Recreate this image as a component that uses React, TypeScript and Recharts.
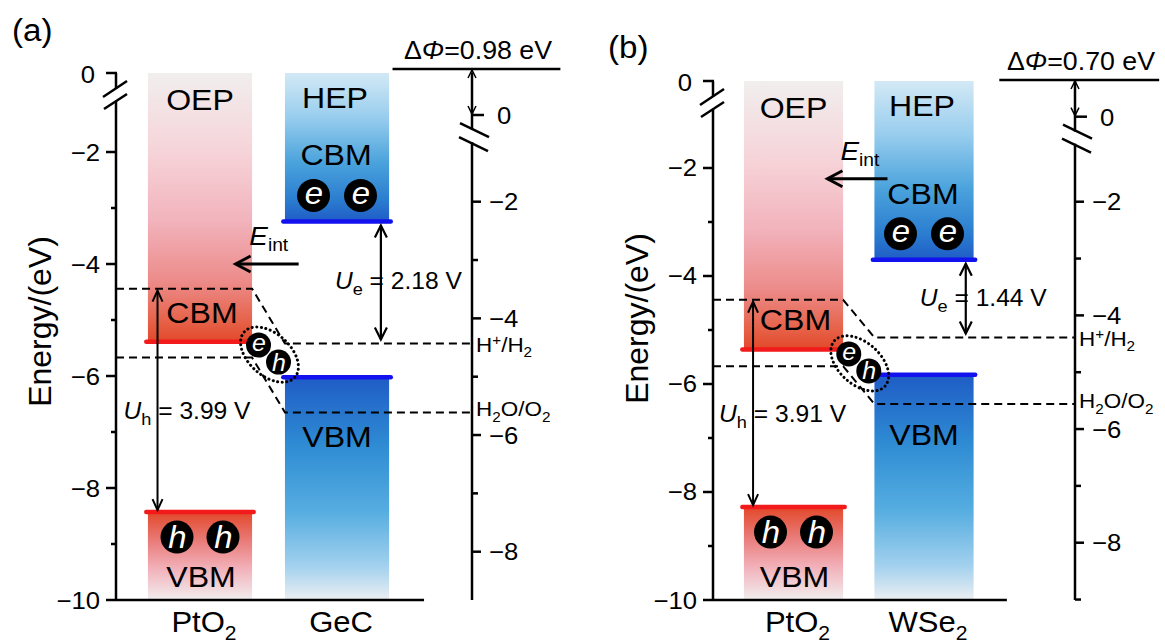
import React from 'react';
import { ComposedChart, XAxis, YAxis, ReferenceArea, ReferenceLine, ReferenceDot, Line } from 'recharts';

const FONT = '"Liberation Sans", Arial, Helvetica, sans-serif';
const SX = 1.07;

// ---------- data ----------
const redoxLevels = [-4.44, -5.67];
const redoxNames = ['H+/H2', 'H2O/O2'];

const materialsA = ['PtO2', 'GeC'];
const cbmA = [-5.39, -3.24];
const vbmA = [-8.43, -6.02];
const dPhiA = 0.98;
const ueA = 2.18;
const uhA = 3.99;

const materialsB = ['PtO2', 'WSe2'];
const cbmB = [-5.36, -3.7];
const vbmB = [-8.28, -5.83];
const dPhiB = 0.7;
const ueB = 1.44;
const uhB = 3.91;

const leftTickValues = [-10, -9, -8, -7, -6, -5, -4, -3, -2];
const rightTicksA = [-8, -7, -6, -5, -4, -3, -2];
const rightTicksB = [-9, -8, -7, -6, -5, -4, -3, -2];

// ---------- layout (not data) ----------
const geoA = {
  width: 582, top: 73, leftW: 116, rightW: 110,
  xDomain: [0.387, 2.985], yL: [-10, -0.589], yR: [-8.828, 0.206],
  zeroR: -0.514, dPhiLineR: 0.275, eintE: -4.0, titleDy: -15,
};
const geoB = {
  width: 583, top: 81, leftW: 131, rightW: 90,
  xDomain: [0.383, 3.157], yL: [-10, -0.389], yR: [-9.008, 0.124],
  zeroR: -0.504, dPhiLineR: 0.141, eintE: -2.2, titleDy: -22,
};

function T({ x, y, size = 22, anchor = 'start', italic = false, fill = '#000', sx = SX, children }: any) {
  return (
    <g transform={`translate(${x},${y}) scale(${sx},1)`}>
      <text x={0} y={0} fontSize={size} fontFamily={FONT} textAnchor={anchor} fill={fill}
        fontStyle={italic ? 'italic' : 'normal'} style={{ whiteSpace: 'pre' }}>{children}</text>
    </g>
  );
}

function chem(s: string, size: number) {
  const runs: { kind: string; t: string }[] = [];
  for (const ch of s) {
    const kind = /[0-9]/.test(ch) ? 'sub' : ch === '+' ? 'sup' : 'n';
    if (runs.length && runs[runs.length - 1].kind === kind) runs[runs.length - 1].t += ch;
    else runs.push({ kind, t: ch });
  }
  let cur = 0;
  return runs.map((r, i) => {
    const target = r.kind === 'sub' ? size * 0.28 : r.kind === 'sup' ? -size * 0.32 : 0;
    const dy = target - cur;
    cur = target;
    return (
      <tspan key={i} dy={dy} fontSize={r.kind === 'n' ? size : size * 0.68}>{r.t}</tspan>
    );
  });
}

const minus = (v: number) => String(v).replace('-', '\u2212');
const AX = { stroke: '#000', strokeWidth: 2.5 };

function LeftTick(p: any) {
  const { x, y, payload } = p;
  const v = payload.value;
  if (v > -1) {
    return (
      <g>
        <line x1={x - 10} y1={y} x2={x + 1} y2={y} {...AX} />
        <rect x={x - 4} y={y + 16} width={8} height={12} fill="#fff" />
        <line x1={x - 13} y1={y + 24} x2={x + 11} y2={y + 8} {...AX} />
        <line x1={x - 12} y1={y + 36} x2={x + 11} y2={y + 21} {...AX} />
        <T x={x - 21} y={y + 10} size={24} anchor="end">0</T>
      </g>
    );
  }
  const major = v % 2 === 0;
  return (
    <g>
      <line x1={x - (major ? 10 : 5)} y1={y} x2={x} y2={y} {...AX} />
      {major && <T x={x - 16} y={y + 8.5} size={24} anchor="end">{minus(v)}</T>}
    </g>
  );
}

function RightTick(p: any) {
  const { x, y, payload } = p;
  const v = payload.value;
  if (v > -1) {
    return (
      <g>
        <line x1={x} y1={y} x2={x + 12} y2={y} {...AX} />
        <rect x={x - 4} y={y + 15} width={8} height={12} fill="#fff" />
        <line x1={x - 12} y1={y + 8} x2={x + 17} y2={y + 22} {...AX} />
        <line x1={x - 13} y1={y + 22} x2={x + 16} y2={y + 36} {...AX} />
        <T x={x + 25} y={y + 9} size={24}>0</T>
      </g>
    );
  }
  const major = v % 2 === 0;
  return (
    <g>
      <line x1={x} y1={y} x2={x + (major ? 9 : 6)} y2={y} {...AX} />
      {major && <T x={x + 17} y={y + 8.5} size={24}>{minus(v)}</T>}
    </g>
  );
}

function arrowShape(o: { start?: boolean; end?: boolean; len: number; hw: number; sw: number; inset?: number }) {
  return (p: any) => {
    let { x1, y1, x2, y2 } = p;
    const a = Math.atan2(y2 - y1, x2 - x1);
    const ins = o.inset ?? 0;
    x1 += Math.cos(a) * ins; y1 += Math.sin(a) * ins;
    x2 -= Math.cos(a) * ins; y2 -= Math.sin(a) * ins;
    const head = (tx: number, ty: number, ang: number) => {
      const bx = tx - o.len * Math.cos(ang), by = ty - o.len * Math.sin(ang);
      const px = -Math.sin(ang) * o.hw, py = Math.cos(ang) * o.hw;
      return (
        <polyline points={`${bx + px},${by + py} ${tx},${ty} ${bx - px},${by - py}`}
          fill="none" stroke="#000" strokeWidth={o.sw} />
      );
    };
    return (
      <g>
        <line x1={x1} y1={y1} x2={x2} y2={y2} stroke="#000" strokeWidth={o.sw} />
        {o.start && head(x1, y1, a + Math.PI)}
        {o.end && head(x2, y2, a)}
      </g>
    );
  };
}

function Carrier({ cx, cy, r, t }: any) {
  const size = r * 1.9;
  return (
    <g>
      <circle cx={cx} cy={cy} r={r} fill="#000" />
      <T x={cx + 0.5} y={cy + (t === 'e' ? size * 0.26 : size * 0.36)} size={size} anchor="middle" italic fill="#fff" sx={1.05}>{t}</T>
    </g>
  );
}

function XTick(p: any) {
  const { x, y, payload, names } = p;
  const n = names[payload.value - 1];
  return <T x={x + 4} y={y + 32} size={29} anchor="middle">{chem(n, 29)}</T>;
}

function BandPanel({ tag, names, cbm, vbm, dPhi, ue, uh, rightTicks, g }: any) {
  const HALF = 0.38;
  const [xa, xb] = g.xDomain;
  const [yBot, yTop] = g.yL;
  const c0 = 1, c1 = 2;
  const id = (s: string) => `${s}-${tag}`;
  const bentLevel = (E: number) => [
    { x: xa, y: E }, { x: c0 + HALF, y: E }, { x: c1 - HALF, y: E - dPhi }, { x: xb, y: E - dPhi },
  ];
  const txt = (content: any, dx: number, dy: number, size: number, anchor = 'middle') =>
    (p: any) => <T x={p.cx + dx} y={p.cy + dy} size={size} anchor={anchor}>{content}</T>;
  const edge = (c: number, E: number, color: string, key: string) => (
    <ReferenceLine key={key} yAxisId="L" ifOverflow="visible"
      segment={[{ x: c - HALF - 0.012, y: E }, { x: c + HALF + 0.012, y: E }]}
      stroke={color} strokeWidth={4.5} strokeLinecap="round" />
  );
  const ueTop = cbm[1];
  const ueBot = redoxLevels[0] - dPhi;

  return (
    <ComposedChart width={g.width} height={644} margin={{ top: g.top, right: 0, bottom: 0, left: 0 }}>
      <defs>
        <linearGradient id={id('rt')} x1="0" y1="0" x2="0" y2="1">
          <stop offset="0" stopColor="#f1eeee" />
          <stop offset="0.3" stopColor="#f6d3d8" />
          <stop offset="0.55" stopColor="#f2b3bc" />
          <stop offset="0.78" stopColor="#ec8a88" />
          <stop offset="0.92" stopColor="#e6634a" />
          <stop offset="1" stopColor="#e2482a" />
        </linearGradient>
        <linearGradient id={id('rb')} x1="0" y1="0" x2="0" y2="1">
          <stop offset="0" stopColor="#e2482a" />
          <stop offset="0.35" stopColor="#ea7f7e" />
          <stop offset="0.65" stopColor="#f2b2bb" />
          <stop offset="1" stopColor="#f1eeee" />
        </linearGradient>
        <linearGradient id={id('bt')} x1="0" y1="0" x2="0" y2="1">
          <stop offset="0" stopColor="#d3e9f5" />
          <stop offset="0.3" stopColor="#98cdee" />
          <stop offset="0.6" stopColor="#4ba3dc" />
          <stop offset="0.85" stopColor="#2b7ed0" />
          <stop offset="1" stopColor="#1f5cc6" />
        </linearGradient>
        <linearGradient id={id('bb')} x1="0" y1="0" x2="0" y2="1">
          <stop offset="0" stopColor="#1f5cc6" />
          <stop offset="0.3" stopColor="#2e8bd3" />
          <stop offset="0.6" stopColor="#55ade0" />
          <stop offset="0.85" stopColor="#a3d1ee" />
          <stop offset="1" stopColor="#eceff2" />
        </linearGradient>
      </defs>

      <XAxis type="number" dataKey="x" domain={g.xDomain} allowDataOverflow ticks={[1, 2]} interval={0}
        height={44} axisLine={false} tickLine={false} tickSize={0} tickMargin={0}
        tick={(p: any) => <XTick {...p} names={names} />} />
      <YAxis yAxisId="L" type="number" domain={g.yL} allowDataOverflow width={g.leftW}
        ticks={[...leftTickValues, yTop]} interval={0} tickLine={false} tickSize={0} tickMargin={0}
        axisLine={AX} tick={(p: any) => <LeftTick {...p} />} />
      <YAxis yAxisId="R" orientation="right" type="number" domain={g.yR} allowDataOverflow width={g.rightW}
        ticks={[...rightTicks, g.zeroR]} interval={0} tickLine={false} tickSize={0} tickMargin={0}
        axisLine={AX} tick={(p: any) => <RightTick {...p} />} />

      {/* bands */}
      <ReferenceArea yAxisId="L" x1={c0 - HALF} x2={c0 + HALF} y1={cbm[0]} y2={yTop} fill={`url(#${id('rt')})`} fillOpacity={1} stroke="none" ifOverflow="visible" />
      <ReferenceArea yAxisId="L" x1={c0 - HALF} x2={c0 + HALF} y1={yBot} y2={vbm[0]} fill={`url(#${id('rb')})`} fillOpacity={1} stroke="none" ifOverflow="visible" />
      <ReferenceArea yAxisId="L" x1={c1 - HALF} x2={c1 + HALF} y1={cbm[1]} y2={yTop} fill={`url(#${id('bt')})`} fillOpacity={1} stroke="none" ifOverflow="visible" />
      <ReferenceArea yAxisId="L" x1={c1 - HALF} x2={c1 + HALF} y1={yBot} y2={vbm[1]} fill={`url(#${id('bb')})`} fillOpacity={1} stroke="none" ifOverflow="visible" />

      {/* bottom axis line */}
      <ReferenceLine yAxisId="L" ifOverflow="visible" segment={[{ x: xa, y: yBot }, { x: 2.635, y: yBot }]} stroke="#000" strokeWidth={2.5} />

      {/* redox levels with band bending */}
      {redoxLevels.map((E, i) => (
        <Line key={`rl${i}`} yAxisId="L" data={bentLevel(E)} dataKey="y" type="linear" stroke="#000"
          strokeWidth={2} strokeDasharray="8 5" dot={false} activeDot={false} isAnimationActive={false} />
      ))}

      {/* band edges */}
      {edge(c0, cbm[0], '#f21a1a', 'e0')}
      {edge(c0, vbm[0], '#f21a1a', 'e1')}
      {edge(c1, cbm[1], '#1212ee', 'e2')}
      {edge(c1, vbm[1], '#1212ee', 'e3')}

      {/* arrows */}
      <ReferenceLine yAxisId="L" ifOverflow="visible" segment={[{ x: 1.72, y: g.eintE }, { x: 1.26, y: g.eintE }]}
        shape={arrowShape({ end: true, len: 15, hw: 8, sw: 3 })} />
      <ReferenceLine yAxisId="L" ifOverflow="visible" segment={[{ x: 0.69, y: redoxLevels[0] }, { x: 0.69, y: vbm[0] }]}
        shape={arrowShape({ start: true, end: true, len: 11, hw: 5, sw: 2, inset: 2 })} />
      <ReferenceLine yAxisId="L" ifOverflow="visible" segment={[{ x: 2.32, y: ueTop }, { x: 2.32, y: ueBot }]}
        shape={arrowShape({ start: true, end: true, len: 12, hw: 6, sw: 2.2, inset: 4 })} />
      <ReferenceLine yAxisId="R" ifOverflow="visible" segment={[{ x: xb - 0.58, y: g.dPhiLineR }, { x: xb + 0.645, y: g.dPhiLineR }]}
        stroke="#000" strokeWidth={2.5} />
      <ReferenceLine yAxisId="R" ifOverflow="visible" segment={[{ x: xb, y: g.dPhiLineR }, { x: xb, y: g.zeroR }]}
        shape={arrowShape({ start: true, end: true, len: 8, hw: 4, sw: 1.5, inset: 1 })} />

      {/* carriers */}
      <ReferenceDot yAxisId="L" x={c1} y={cbm[1]} r={16} ifOverflow="visible"
        shape={(p: any) => <g><Carrier cx={p.cx - 23.5} cy={p.cy - 26} r={16.5} t="e" /><Carrier cx={p.cx + 23.5} cy={p.cy - 26} r={16.5} t="e" /></g>} />
      <ReferenceDot yAxisId="L" x={c0} y={vbm[0]} r={16} ifOverflow="visible"
        shape={(p: any) => <g><Carrier cx={p.cx - 23} cy={p.cy + 25} r={16.5} t="h" /><Carrier cx={p.cx + 23} cy={p.cy + 25} r={16.5} t="h" /></g>} />
      <ReferenceDot yAxisId="L" x={1.5} y={-5.6} r={12} ifOverflow="visible"
        shape={(p: any) => (
          <g>
            <ellipse cx={p.cx + 1} cy={p.cy + 1} rx={34} ry={21} transform={`rotate(42 ${p.cx + 1} ${p.cy + 1})`}
              fill="none" stroke="#000" strokeWidth={3} strokeDasharray="0.1 4.5" strokeLinecap="round" />
            <Carrier cx={p.cx - 10} cy={p.cy - 8.5} r={12.5} t="e" />
            <Carrier cx={p.cx + 10} cy={p.cy + 8.5} r={12.5} t="h" />
          </g>
        )} />

      {/* axis title */}
      <ReferenceDot yAxisId="L" x={xa} y={(yBot + yTop) / 2} r={1} ifOverflow="visible"
        shape={(p: any) => {
          const tx = p.cx - 76, ty = p.cy + g.titleDy;
          return (
            <text x={tx} y={ty} transform={`rotate(-90 ${tx} ${ty})`} textAnchor="middle" dominantBaseline="central"
              fontSize={32} fontFamily={FONT} fill="#000">Energy/(eV)</text>
          );
        }} />

      {/* band labels */}
      <ReferenceDot yAxisId="L" x={c0} y={yTop} r={1} ifOverflow="visible" shape={txt('OEP', 0, 37, 30)} />
      <ReferenceDot yAxisId="L" x={c1} y={yTop} r={1} ifOverflow="visible" shape={txt('HEP', -2, 35, 30)} />
      <ReferenceDot yAxisId="L" x={c1} y={cbm[1]} r={1} ifOverflow="visible" shape={txt('CBM', -1, -56, 30)} />
      <ReferenceDot yAxisId="L" x={c0} y={cbm[0]} r={1} ifOverflow="visible" shape={txt('CBM', 2, -19, 30)} />
      <ReferenceDot yAxisId="L" x={c1} y={vbm[1]} r={1} ifOverflow="visible" shape={txt('VBM', 0, 70, 30)} />
      <ReferenceDot yAxisId="L" x={c0} y={yBot} r={1} ifOverflow="visible" shape={txt('VBM', 1, -13, 30)} />

      {/* E_int */}
      <ReferenceDot yAxisId="L" x={1.36} y={g.eintE} r={1} ifOverflow="visible"
        shape={txt([<tspan key="E" fontStyle="italic">E</tspan>, <tspan key="i" dy={6} fontSize={18}>int</tspan>], 0, -19, 26, 'start')} />

      {/* U_h, U_e */}
      <ReferenceDot yAxisId="L" x={0.69} y={(redoxLevels[0] + vbm[0]) / 2} r={1} ifOverflow="visible"
        shape={txt([<tspan key="U" fontStyle="italic">U</tspan>, <tspan key="h" dy={6} fontSize={17}>h</tspan>,
          <tspan key="v" dy={-6}>{` = ${uh.toFixed(2)} V`}</tspan>], -34, 19, 23, 'start')} />
      <ReferenceDot yAxisId="L" x={2.32} y={(ueTop + ueBot) / 2} r={1} ifOverflow="visible"
        shape={txt([<tspan key="U" fontStyle="italic">U</tspan>, <tspan key="e" dy={6} fontSize={17}>e</tspan>,
          <tspan key="v" dy={-6}>{` = ${ue.toFixed(2)} V`}</tspan>], -46, 7, 23, 'start')} />

      {/* redox labels */}
      {redoxLevels.map((E, i) => (
        <ReferenceDot key={`rn${i}`} yAxisId="L" x={xb} y={E - dPhi} r={1} ifOverflow="visible"
          shape={txt(chem(redoxNames[i], 21), 4, i === 0 ? 8 : 4, 21, 'start')} />
      ))}

      {/* delta phi label */}
      <ReferenceDot yAxisId="R" x={xb} y={g.dPhiLineR} r={1} ifOverflow="visible"
        shape={txt([<tspan key="d">Δ</tspan>, <tspan key="p" fontStyle="italic">Φ</tspan>,
          <tspan key="v">{`=${dPhi.toFixed(2)} eV`}</tspan>], 6, -10, 25)} />
    </ComposedChart>
  );
}

export default function App() {
  return (
    <div style={{ position: 'absolute', left: 0, top: 0, width: 1165, height: 644, background: '#fff', overflow: 'hidden' }}>
      <div style={{ position: 'absolute', left: 0, top: 0 }}>
        <BandPanel tag="a" names={materialsA} cbm={cbmA} vbm={vbmA} dPhi={dPhiA} ue={ueA} uh={uhA}
          rightTicks={rightTicksA} g={geoA} />
      </div>
      <div style={{ position: 'absolute', left: 582, top: 0 }}>
        <BandPanel tag="b" names={materialsB} cbm={cbmB} vbm={vbmB} dPhi={dPhiB} ue={ueB} uh={uhB}
          rightTicks={rightTicksB} g={geoB} />
      </div>
      <svg width={1165} height={644} style={{ position: 'absolute', left: 0, top: 0, pointerEvents: 'none' }}>
        <T x={12} y={41} size={31}>(a)</T>
        <T x={608} y={58} size={31}>(b)</T>
      </svg>
    </div>
  );
}
